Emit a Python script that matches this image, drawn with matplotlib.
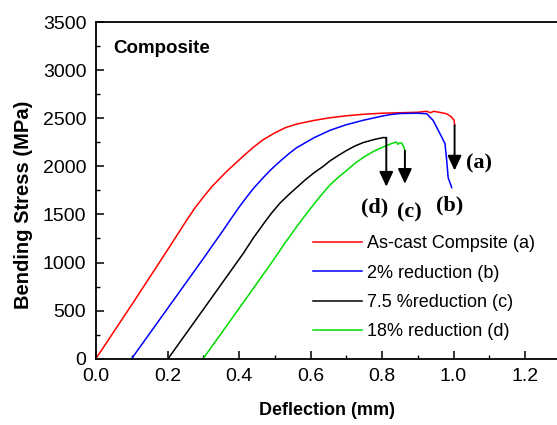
import matplotlib
matplotlib.use('Agg')
import matplotlib.pyplot as plt
from matplotlib.ticker import MultipleLocator

# Bending stress-deflection curves
ascast_x = [0.0, 0.10, 0.20, 0.25, 0.277, 0.30, 0.324, 0.35, 0.37, 0.395, 0.417, 0.44,
            0.468, 0.50, 0.53, 0.561, 0.61, 0.655, 0.70, 0.748, 0.80, 0.85, 0.90, 0.925,
            0.935, 0.945, 0.96, 0.98, 0.993, 1.002, 1.003]
ascast_y = [0, 560, 1130, 1420, 1570, 1680, 1790, 1890, 1965, 2050, 2125, 2200,
            2280, 2350, 2405, 2442, 2480, 2508, 2528, 2544, 2555, 2560, 2565, 2575,
            2560, 2575, 2565, 2550, 2520, 2480, 2430]

red2_x = [0.10, 0.20, 0.30, 0.356, 0.375, 0.40, 0.417, 0.44, 0.468, 0.49, 0.515, 0.54,
          0.561, 0.61, 0.655, 0.70, 0.748, 0.80, 0.822, 0.85, 0.90, 0.925, 0.943, 0.962,
          0.976, 0.981, 0.985, 0.995]
red2_y = [0, 520, 1040, 1337, 1441, 1575, 1660, 1770, 1885, 1970, 2055, 2135,
          2195, 2300, 2378, 2435, 2482, 2525, 2540, 2552, 2555, 2550, 2480, 2343,
          2240, 2063, 1885, 1780]

red75_x = [0.202, 0.30, 0.412, 0.44, 0.468, 0.49, 0.515, 0.54, 0.561, 0.585, 0.61, 0.635,
           0.655, 0.68, 0.70, 0.725, 0.748, 0.78, 0.804, 0.810]
red75_y = [0, 510, 1095, 1255, 1400, 1510, 1620, 1710, 1780, 1860, 1935, 2000,
           2060, 2120, 2165, 2215, 2250, 2283, 2302, 2300]

red18_x = [0.30, 0.417, 0.496, 0.53, 0.561, 0.593, 0.625, 0.655, 0.68, 0.70, 0.725,
           0.75, 0.78, 0.814, 0.831, 0.84, 0.845, 0.848, 0.855, 0.861, 0.864]
red18_y = [0, 609, 1025, 1210, 1371, 1530, 1680, 1810, 1895, 1955, 2035,
           2100, 2165, 2220, 2245, 2255, 2230, 2245, 2245, 2205, 2165]

series_labels = ['As-cast Compsite (a)', '2% reduction (b)', '7.5 %reduction (c)',
                 '18% reduction (d)']
series_colors = ['#ff0000', '#0000ff', '#000000', '#00dd00']

# fracture arrows: x position, start stress, tip stress
arrow_x = [1.003, 0.812, 0.864]
arrow_top = [2430, 2300, 2165]
arrow_tip = [1958, 1790, 1820]

x_ticks = [0.0, 0.2, 0.4, 0.6, 0.8, 1.0, 1.2]
y_ticks = [0, 500, 1000, 1500, 2000, 2500, 3000, 3500]

plt.rcParams['font.family'] = ['Liberation Sans', 'DejaVu Sans']

fig = plt.figure(figsize=(5.57, 4.25), dpi=100)
ax = fig.add_axes([0.17235, 0.15647, 0.8344, 0.79059])

curves = [(ascast_x, ascast_y), (red2_x, red2_y), (red75_x, red75_y), (red18_x, red18_y)]
for (xs, ys), lab, col in zip(curves, series_labels, series_colors):
    ax.plot(xs, ys, color=col, linewidth=1.1, label=lab)

for xa, y0, y1 in zip(arrow_x, arrow_top, arrow_tip):
    ax.annotate('', xy=(xa, y1), xytext=(xa, y0),
                arrowprops=dict(arrowstyle='-|>,head_length=0.9,head_width=0.42',
                                color='black', lw=1.4, shrinkA=0, shrinkB=0,
                                mutation_scale=10))

serif = dict(family=['Liberation Serif', 'DejaVu Serif'], fontweight='bold', fontsize=16)
ax.text(1.035, 2034, '(a)', ha='left', va='center', **serif)
ax.text(0.99, 1597, '(b)', ha='center', va='center', **serif)
ax.text(0.78, 1576, '(d)', ha='center', va='center', **serif)
ax.text(0.877, 1524, '(c)', ha='center', va='center', **serif)

ax.text(0.048, 3231, 'Composite', ha='left', va='center', fontsize=13.5, fontweight='bold')

ax.set_xlim(0, 1.3)
ax.set_ylim(0, 3500)
ax.set_xticks(x_ticks)
ax.set_xticklabels([f'{v:.1f}' for v in x_ticks])
ax.set_yticks(y_ticks)
ax.xaxis.set_minor_locator(MultipleLocator(0.1))
ax.yaxis.set_minor_locator(MultipleLocator(250))
ax.tick_params(which='major', direction='in', length=6, width=1.1, labelsize=14, pad=7)
ax.tick_params(which='minor', direction='in', length=3, width=1.0)
for sp in ax.spines.values():
    sp.set_linewidth(1.3)

ax.set_xlabel('Deflection (mm)', fontsize=13, fontweight='bold')
ax.set_ylabel('Bending Stress (MPa)', fontsize=14.5, fontweight='bold')
ax.xaxis.set_label_coords(0.496, -0.13)
ax.yaxis.set_label_coords(-0.136, 0.458)

ax.legend(loc='upper left', bbox_to_anchor=(313 / 557, 1 - 235.5 / 425),
          bbox_transform=fig.transFigure, frameon=False, fontsize=13,
          borderpad=0, borderaxespad=0, handlelength=2.71, handletextpad=0.28,
          labelspacing=0.68)

fig.savefig('out.png', dpi=100)
